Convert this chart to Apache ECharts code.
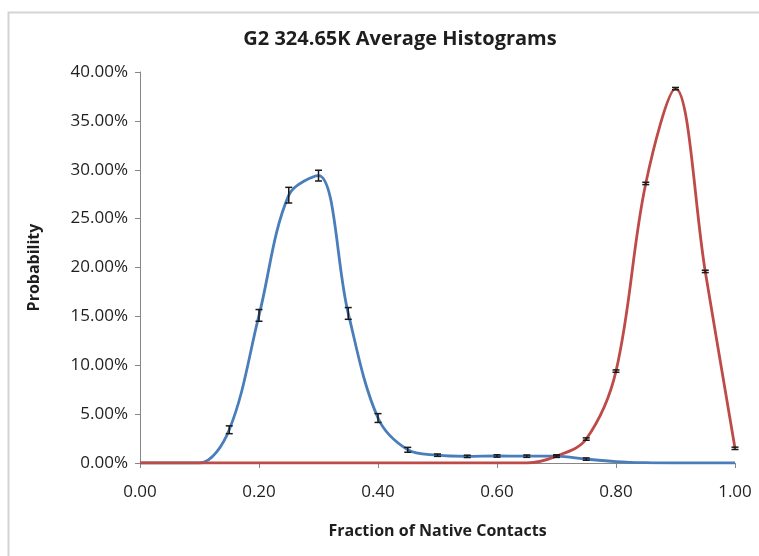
<!DOCTYPE html>
<html>
<head>
<meta charset="utf-8">
<script src="https://cdn.jsdelivr.net/npm/echarts@6/dist/echarts.min.js"></script>
<style>
  html, body { margin: 0; padding: 0; background: #fff; }
  #chart { width: 759px; height: 556px; }
</style>
</head>
<body>
<div id="chart"></div>
<script>
// Fraction of native contacts (bin centres)
const fractions = [0.00, 0.05, 0.10, 0.15, 0.20, 0.25, 0.30, 0.35, 0.40, 0.45, 0.50,
                   0.55, 0.60, 0.65, 0.70, 0.75, 0.80, 0.85, 0.90, 0.95, 1.00];
// Probability (%) for each histogram
const unfoldedProb = [0, 0, 0, 3.4, 15.1, 27.4, 29.4, 15.3, 4.6, 1.35, 0.8,
                      0.68, 0.72, 0.7, 0.7, 0.4, 0.15, 0.03, 0, 0, 0];
const foldedProb   = [0, 0, 0, 0, 0, 0, 0, 0, 0, 0, 0,
                      0, 0, 0, 0.7, 2.45, 9.4, 28.6, 38.3, 19.6, 1.5];
// Half-widths of the error bars (%)
const unfoldedErr  = [0, 0, 0, 0.4, 0.6, 0.8, 0.55, 0.6, 0.45, 0.25, 0.12,
                      0.12, 0.12, 0.12, 0.12, 0.12, 0, 0, 0, 0, 0];
const foldedErr    = [0, 0, 0, 0, 0, 0, 0, 0, 0, 0, 0,
                      0, 0, 0, 0.12, 0.12, 0.12, 0.12, 0.12, 0.12, 0.12];
// Axis ticks
const xTicks = { min: 0, max: 1, step: 0.2 };
const yTicks = { min: 0, max: 40, step: 5 };

const pairs = (ys) => fractions.map((x, i) => [x, ys[i]]);
const errRows = (ys, es) => fractions
  .map((x, i) => [x, ys[i] - es[i], ys[i] + es[i], es[i]])
  .filter(r => r[3] > 0);

function renderErr(params, api) {
  const x = api.value(0);
  const lo = api.coord([x, api.value(1)]);
  const hi = api.coord([x, api.value(2)]);
  const half = 3.5;
  const style = { stroke: '#1a1a1a', lineWidth: 1.5, fill: null };
  return {
    type: 'group',
    children: [
      { type: 'line', shape: { x1: lo[0], y1: lo[1], x2: hi[0], y2: hi[1] }, style },
      { type: 'line', shape: { x1: lo[0] - half, y1: lo[1], x2: lo[0] + half, y2: lo[1] }, style },
      { type: 'line', shape: { x1: hi[0] - half, y1: hi[1], x2: hi[0] + half, y2: hi[1] }, style }
    ]
  };
}

const font = '"Open Sans", Lato, "Liberation Sans", sans-serif';
const textColor = '#1e1e1e';
const chart = echarts.init(document.getElementById('chart'), null, { renderer: 'canvas' });
chart.setOption({
  backgroundColor: '#fff',
  animation: false,
  title: {
    text: 'G2 324.65K Average Histograms',
    left: 395, top: 24, textAlign: 'center',
    textStyle: { fontFamily: font, fontSize: 20, fontWeight: 'bold', color: textColor }
  },
  graphic: [{
    type: 'rect', left: 6, top: 10,
    shape: { width: 820, height: 620 },
    style: { fill: null, stroke: '#d4d4d4', lineWidth: 2 },
    silent: true, z: -1
  }],
  grid: { left: 140, right: 24, top: 72, bottom: 93, containLabel: false },
  xAxis: {
    type: 'value', min: xTicks.min, max: xTicks.max, interval: xTicks.step,
    name: 'Fraction of Native Contacts', nameLocation: 'middle', nameGap: 60,
    nameTextStyle: { fontFamily: font, fontSize: 16, fontWeight: 'bold', color: textColor },
    axisLine: { show: true, lineStyle: { color: '#868686', width: 1 } },
    axisTick: { show: true, length: 5, lineStyle: { color: '#868686' } },
    axisLabel: { fontFamily: font, fontSize: 17, color: textColor, margin: 21,
                 formatter: v => v.toFixed(2) },
    splitLine: { show: false }
  },
  yAxis: {
    type: 'value', min: yTicks.min, max: yTicks.max, interval: yTicks.step,
    name: 'Probability', nameLocation: 'middle', nameGap: 98, nameRotate: 90,
    nameTextStyle: { fontFamily: font, fontSize: 16, fontWeight: 'bold', color: textColor },
    axisLine: { show: true, lineStyle: { color: '#868686', width: 1 } },
    axisTick: { show: true, inside: false, length: 5, lineStyle: { color: '#868686' } },
    axisLabel: { fontFamily: font, fontSize: 17, color: textColor, margin: 12,
                 formatter: v => v.toFixed(2) + '%' },
    splitLine: { show: false }
  },
  series: [
    {
      type: 'line', name: 'unfolded', data: pairs(unfoldedProb),
      smooth: 0.35, showSymbol: false,
      lineStyle: { color: '#4A7EBB', width: 2.8 }, z: 2
    },
    {
      type: 'line', name: 'folded', data: pairs(foldedProb),
      smooth: 0.35, showSymbol: false,
      lineStyle: { color: '#BE4B48', width: 2.8 }, z: 3
    },
    {
      type: 'custom', data: errRows(unfoldedProb, unfoldedErr),
      renderItem: renderErr, z: 4, silent: true
    },
    {
      type: 'custom', data: errRows(foldedProb, foldedErr),
      renderItem: renderErr, z: 5, silent: true
    }
  ]
});
</script>
</body>
</html>
